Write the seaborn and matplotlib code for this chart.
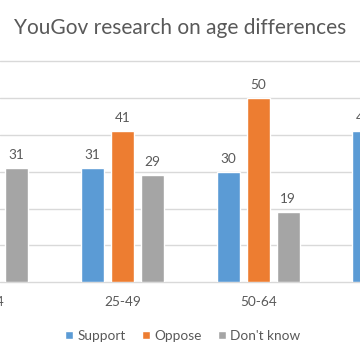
"""
Grouped bar chart: YouGov research on age differences (cropped view).
"""
import matplotlib
matplotlib.use("Agg")
import matplotlib.pyplot as plt
import pandas as pd
import seaborn as sns

age_groups = ["18-24", "25-49", "50-64", "65+"]
responses = ["Support", "Oppose", "Don't know"]
# 18-24 support/oppose and 65+ oppose/don't know sit outside the crop: estimates
support = [44, 31, 30, 41]
oppose = [25, 41, 50, 45]
dont_know = [31, 29, 19, 14]
colors = ["#5B9BD5", "#ED7D31", "#A5A5A5"]
text_color = "#595959"

df = pd.DataFrame({
    "age": age_groups * 3,
    "response": [r for r in responses for _ in age_groups],
    "pct": support + oppose + dont_know,
})

sns.set_theme(style="white")
plt.rcParams["font.family"] = ["Lato", "DejaVu Sans"]

fig = plt.figure(figsize=(3.6, 3.6), dpi=100)
ax = fig.add_axes([0, 0.2158, 1, 0.6147])
sns.barplot(data=df, x="age", y="pct", hue="response", hue_order=responses,
            palette=colors, saturation=1, width=0.662, gap=0.217, ax=ax)

for cont in ax.containers:
    for t in ax.bar_label(cont, padding=5, fontsize=9.8, color=text_color):
        t.set_annotation_clip(False)

xmin, xmax = 0.098, 2.749
ax.set_xlim(xmin, xmax)
ax.set_ylim(0, 60)
ax.set_yticks(range(0, 70, 10))
ax.set_yticklabels([])
ax.yaxis.grid(True, color="#D9D9D9", linewidth=1)
for gl in ax.get_ygridlines():
    gl.set_clip_on(False)
ax.set_axisbelow(True)
sns.despine(ax=ax, left=True, bottom=True)
ax.tick_params(axis="x", length=0, pad=10, labelsize=9.8, colors=text_color)
ax.tick_params(axis="y", length=0)
ax.set_xlabel("")
ax.set_ylabel("")

# category labels whose tick falls outside the cropped view
for i, g in enumerate(age_groups):
    if i < xmin or i > xmax:
        ax.annotate(g, xy=(i, 0), xycoords=ax.get_xaxis_transform(),
                    xytext=(0, -10), textcoords="offset points", ha="center",
                    va="top", fontsize=9.8, color=text_color, annotation_clip=False)

handles, labels = ax.get_legend_handles_labels()
ax.legend_.remove()
fig.legend(handles, labels, loc="center", bbox_to_anchor=(0.507, 0.0675), ncol=3,
           frameon=False, handlelength=0.6, handleheight=0.6, handletextpad=0.3,
           columnspacing=1.2, fontsize=9.8, labelcolor=text_color)

fig.text(0.5, 0.922, "YouGov research on age differences", ha="center", va="center",
         fontsize=15, color=text_color)

fig.savefig("out.png", dpi=100)
plt.close(fig)
